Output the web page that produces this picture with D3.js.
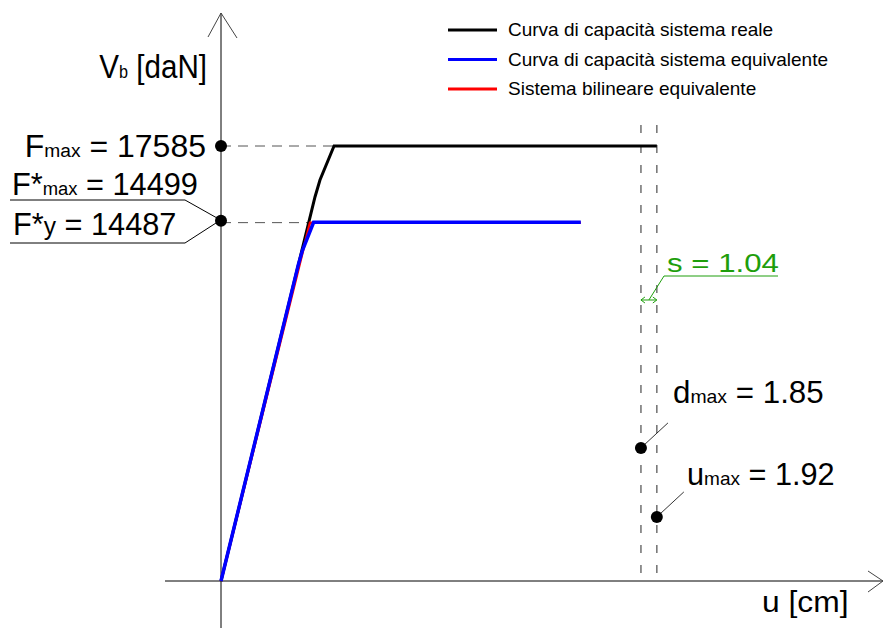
<!DOCTYPE html>
<html>
<head>
<meta charset="utf-8">
<script src="https://cdn.jsdelivr.net/npm/d3@7"></script>
<style>
  body { margin: 0; background: #fff; }
  svg { display: block; }
  text { font-family: "Liberation Sans", Arial, sans-serif; }
</style>
</head>
<body>
<div id="chart"></div>
<script>
// curve di capacità (u in cm, F in daN)
var realU = [0, 0.414, 0.436, 0.498, 1.92];
var realF = [0, 15524, 16211, 17585, 17585];
var eqU = [0, 0.341, 0.359, 0.408, 1.585];
var eqF = [0, 12800, 13370, 14499, 14499];
var bilU = [0, 0.392, 1.585];
var bilF = [0, 14487, 14487];

var seriesNames = ["Curva di capacità sistema reale", "Curva di capacità sistema equivalente", "Sistema bilineare equivalente"];
var seriesColors = ["#000000", "#0000ff", "#ff0000"];

// valori annotati
var forceValues = [17585, 14499, 14487];      // Fmax, F*max, F*y
var dispValues = [1.85, 1.92];                // dmax, umax
var dispDotF = [5380, 2590];                  // quota dei punti sulle verticali
var sValue = 1.04;
var sArrowF = 11360;

var width = 883, height = 628;
var green = "#1e9e0c";

var svg = d3.select("#chart").append("svg")
    .attr("width", width)
    .attr("height", height);

var x = d3.scaleLinear().domain([0, 1]).range([221, 448]);
var y = d3.scaleLinear().domain([0, 17585]).range([581, 146]);

function pts(us, fs) {
    return us.map(function (u, i) { return [x(u), y(fs[i])]; });
}

// label helper: parts = [[text, relSize]]
function label(px, py, anchor, size, sx, color, parts) {
    var t = svg.append("text")
        .attr("transform", "translate(" + px + "," + py + ") scale(" + sx + ",1)")
        .attr("text-anchor", anchor)
        .style("font-size", size + "px")
        .style("fill", color);
    parts.forEach(function (p) {
        t.append("tspan").text(p[0]).style("font-size", (size * p[1]) + "px");
    });
    return t;
}

// assi
svg.append("line").attr("x1", 165).attr("x2", width).attr("y1", y(0)).attr("y2", y(0))
    .attr("stroke", "#000").attr("stroke-width", 1);
svg.append("line").attr("x1", x(0)).attr("x2", x(0)).attr("y1", height).attr("y2", 13)
    .attr("stroke", "#000").attr("stroke-width", 1);
svg.append("polyline").attr("points", "868,571 883,581 868,592")
    .attr("fill", "none").attr("stroke", "#444").attr("stroke-width", 1);
svg.append("polyline").attr("points", "208,37 221,13 237,38")
    .attr("fill", "none").attr("stroke", "#444").attr("stroke-width", 1);

// tratteggi orizzontali
svg.append("line").attr("x1", x(0)).attr("x2", x(realU[3])).attr("y1", y(forceValues[0])).attr("y2", y(forceValues[0]))
    .attr("stroke", "#555").attr("stroke-dasharray", "10,7");
svg.append("line").attr("x1", x(0)).attr("x2", x(bilU[1])).attr("y1", y(forceValues[2])).attr("y2", y(forceValues[2]))
    .attr("stroke", "#555").attr("stroke-dasharray", "10,7");

// tratteggi verticali
dispValues.forEach(function (d) {
    svg.append("line").attr("x1", x(d)).attr("x2", x(d)).attr("y1", 125).attr("y2", y(0))
        .attr("stroke", "#666").attr("stroke-width", 1.4).attr("stroke-dasharray", "8,12");
});

var line = d3.line();

svg.append("path").attr("d", line(pts(realU, realF)))
    .attr("fill", "none").attr("stroke", seriesColors[0]).attr("stroke-width", 3);
svg.append("path").attr("d", line(pts(bilU, bilF)))
    .attr("fill", "none").attr("stroke", seriesColors[2]).attr("stroke-width", 2.5);
svg.append("path").attr("d", line(pts(eqU, eqF)))
    .attr("fill", "none").attr("stroke", seriesColors[1]).attr("stroke-width", 3.5);

// legenda
seriesNames.forEach(function (name, i) {
    var ly = 30 + i * 29.5;
    svg.append("line").attr("x1", 448).attr("x2", 497).attr("y1", ly).attr("y2", ly)
        .attr("stroke", seriesColors[i]).attr("stroke-width", 3);
    svg.append("text").attr("x", 508).attr("y", ly + 6)
        .style("font-size", "19px").style("fill", "#000").text(name);
});

// punti e richiami
svg.append("circle").attr("cx", x(0)).attr("cy", y(forceValues[0])).attr("r", 6).attr("fill", "#000");
svg.append("circle").attr("cx", x(0)).attr("cy", y(forceValues[2]) - 2).attr("r", 6).attr("fill", "#000");
svg.append("polyline").attr("points", "10,200 185,200 217,218")
    .attr("fill", "none").attr("stroke", "#000").attr("stroke-width", 1);
svg.append("polyline").attr("points", "10,243 185,243 216,223")
    .attr("fill", "none").attr("stroke", "#000").attr("stroke-width", 1);

dispValues.forEach(function (d, i) {
    var cx = x(d), cy = y(dispDotF[i]);
    svg.append("circle").attr("cx", cx).attr("cy", cy).attr("r", 6).attr("fill", "#000");
    svg.append("line").attr("x1", cx).attr("y1", cy).attr("x2", cx + 27).attr("y2", cy - 25)
        .attr("stroke", "#000").attr("stroke-width", 0.8);
});

// quota s
var sy = y(sArrowF), sx1 = x(dispValues[0]), sx2 = x(dispValues[1]);
svg.append("line").attr("x1", sx1).attr("x2", sx2).attr("y1", sy).attr("y2", sy)
    .attr("stroke", green).attr("stroke-width", 1);
svg.append("polyline").attr("points", (sx1 + 4) + "," + (sy - 3) + " " + sx1 + "," + sy + " " + (sx1 + 4) + "," + (sy + 3))
    .attr("fill", "none").attr("stroke", green).attr("stroke-width", 1);
svg.append("polyline").attr("points", (sx2 - 4) + "," + (sy - 3) + " " + sx2 + "," + sy + " " + (sx2 - 4) + "," + (sy + 3))
    .attr("fill", "none").attr("stroke", green).attr("stroke-width", 1);
svg.append("polyline").attr("points", ((sx1 + sx2) / 2) + "," + sy + " 664,276 778,276")
    .attr("fill", "none").attr("stroke", green).attr("stroke-width", 1);

// testi
label(207, 78, "end", 34, 0.87, "#000", [["V", 1], ["b", 0.55], [" [daN]", 1]]);
label(206, 157, "end", 32, 1.0, "#000", [["F", 1], ["max", 0.6], [" = " + forceValues[0], 1]]);
label(12, 195, "start", 32, 0.96, "#000", [["F*", 1], ["max", 0.6], [" = " + forceValues[1], 1]]);
label(13, 235, "start", 32, 0.96, "#000", [["F*", 1], ["y", 0.8], [" = " + forceValues[2], 1]]);
label(667, 272, "start", 26, 1.2, green, [["s = " + sValue.toFixed(2), 1]]);
label(673, 403, "start", 31, 1.01, "#000", [["d", 1], ["max", 0.62], [" = " + dispValues[0].toFixed(2), 1]]);
label(687, 485, "start", 31, 0.99, "#000", [["u", 1], ["max", 0.62], [" = " + dispValues[1].toFixed(2), 1]]);
label(762, 612, "start", 30, 1.06, "#000", [["u [cm]", 1]]);
</script>
</body>
</html>
